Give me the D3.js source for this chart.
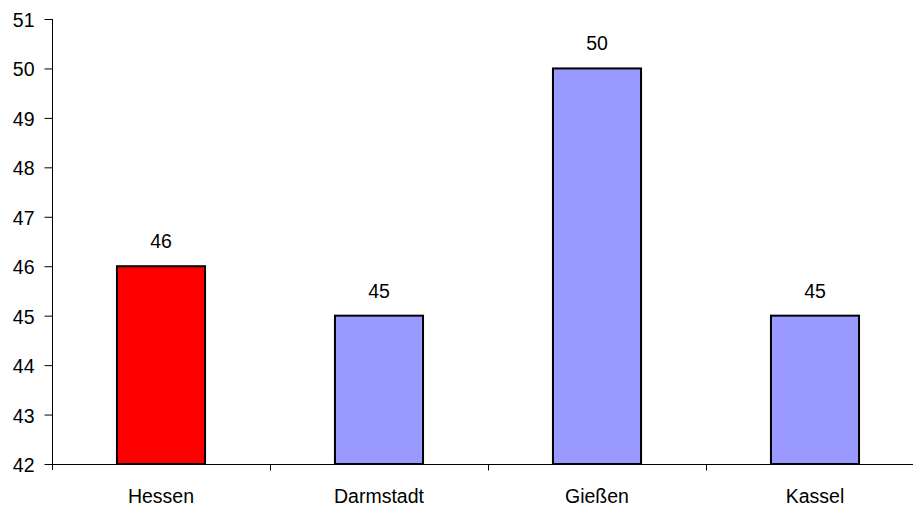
<!DOCTYPE html>
<html><head><meta charset="utf-8">
<script src="https://cdn.jsdelivr.net/npm/d3@7/dist/d3.min.js"></script>
<style>body{margin:0;background:#fff}svg{display:block}text{font-family:"Liberation Sans",Arial,sans-serif;font-size:19.5px;fill:#000}</style>
</head><body>
<script>
const categories = ["Hessen", "Darmstadt", "Gießen", "Kassel"];
const values = [46, 45, 50, 45];
const barColors = ["#FF0000", "#9999FF", "#9999FF", "#9999FF"];
const yTicks = [42, 43, 44, 45, 46, 47, 48, 49, 50, 51];

const W = 913, H = 507;
const svg = d3.select("body").append("svg").attr("width", W).attr("height", H);

const x = d3.scaleBand().domain(categories).range([52, 924]).paddingInner(0.596).paddingOuter(0.298);
const xOuter = d3.scaleBand().domain(categories).range([52, 924]).padding(0);
const y = d3.scaleLinear().domain([42, 51]).range([464, 19]);

// bars
svg.selectAll("rect.bar").data(values).enter().append("rect")
  .attr("class", "bar")
  .attr("x", (d, i) => x(categories[i]))
  .attr("y", d => y(d))
  .attr("width", x.bandwidth())
  .attr("height", d => y(42) - y(d))
  .attr("fill", (d, i) => barColors[i])
  .attr("stroke", "#000").attr("stroke-width", 2);

// value labels
svg.selectAll("text.val").data(values).enter().append("text")
  .attr("class", "val")
  .attr("x", (d, i) => x(categories[i]) + x.bandwidth() / 2)
  .attr("y", d => y(d) - 18)
  .attr("text-anchor", "middle")
  .text(d => d);

// y axis
const yAxis = svg.append("g").attr("transform", "translate(52.5,0)")
  .call(d3.axisLeft(y).tickValues(yTicks).tickSize(8).tickPadding(10).tickFormat(d3.format("d")));
yAxis.select(".domain").attr("d", `M0,${y(51)}V${y(42) + 6}`).attr("stroke", "#000");
yAxis.selectAll(".tick text").attr("dy", null).attr("y", 7.5);

// x axis
const xg = svg.append("g").attr("transform", `translate(0,${y(42) + 0.5})`);
xg.append("line").attr("x1", 52).attr("x2", W).attr("stroke", "#000");
const boundaries = categories.slice(1).map(c => xOuter(c));
xg.selectAll("line.tick").data(boundaries).enter().append("line")
  .attr("class", "tick")
  .attr("x1", d => Math.round(d) + 0.5).attr("x2", d => Math.round(d) + 0.5)
  .attr("y1", 0).attr("y2", 6).attr("stroke", "#000");
xg.selectAll("text").data(categories).enter().append("text")
  .attr("x", d => xOuter(d) + xOuter.bandwidth() / 2)
  .attr("y", 38.5)
  .attr("text-anchor", "middle")
  .text(d => d);
</script>
</body></html>
